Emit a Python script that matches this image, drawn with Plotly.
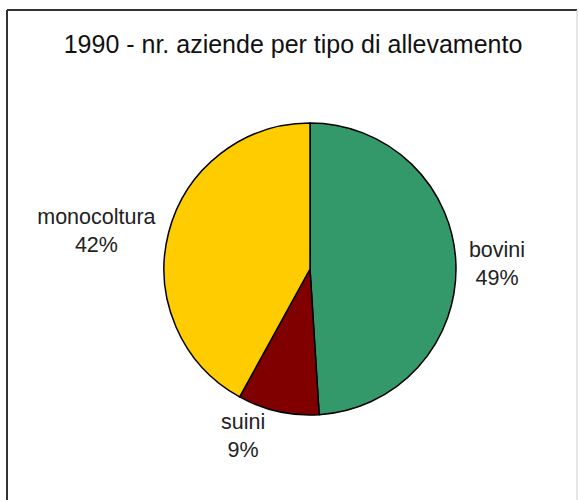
import plotly.graph_objects as go

# Farm counts by livestock type, 1990 (percent shares)
categories = ["bovini", "suini", "monocoltura"]
shares = [49, 9, 42]
colors = ["#33996A", "#800000", "#FFCC00"]

W, H = 579, 500
FONT = "Liberation Sans, Arial, sans-serif"

# Pie placement in pixels: centre and radius
cx, cy, r = 310, 269, 146

fig = go.Figure()
fig.add_trace(go.Pie(
    labels=categories,
    values=shares,
    sort=False,
    direction="clockwise",
    rotation=0,
    marker=dict(colors=colors, line=dict(color="#000000", width=1.5)),
    texttemplate="%{label}<br>%{percent:.0%}",
    textposition="outside",
    textfont=dict(family=FONT, size=21.5, color="#222222"),
    hoverinfo="label+percent",
    showlegend=False,
    domain=dict(x=[(cx - r) / W, (cx + r) / W], y=[1 - (cy + r) / H, 1 - (cy - r) / H]),
))

# Frame around the chart (top, left, right edges)
frame = dict(type="line", xref="paper", yref="paper", line=dict(color="#333333", width=2))
fig.add_shape(**frame, x0=7 / W, x1=577 / W, y0=1 - 10 / H, y1=1 - 10 / H)
fig.add_shape(**frame, x0=7 / W, x1=7 / W, y0=1 - 10 / H, y1=0)
fig.add_shape(type="line", xref="paper", yref="paper", line=dict(color="#CCCCCC", width=1),
              x0=577 / W, x1=577 / W, y0=1 - 10 / H, y1=0)

fig.update_layout(
    width=W,
    height=H,
    margin=dict(l=0, r=0, t=0, b=0, autoexpand=False),
    paper_bgcolor="#FFFFFF",
    title=dict(
        text="1990 - nr. aziende per tipo di allevamento",
        x=293 / W, xanchor="center",
        y=1 - 44 / H, yanchor="middle",
        font=dict(family=FONT, size=25, color="#111111"),
    ),
)

fig.write_html("out.html")
